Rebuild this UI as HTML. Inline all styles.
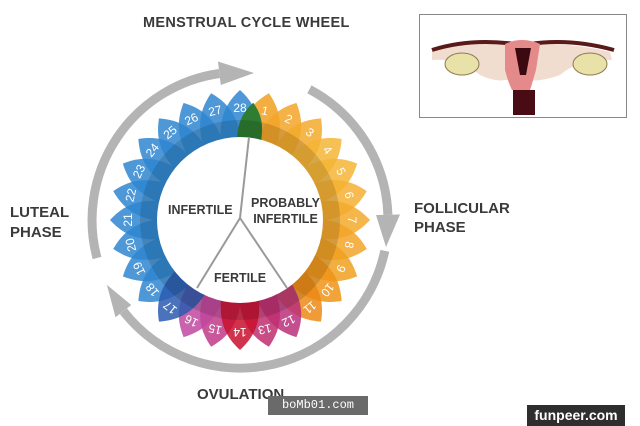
<!DOCTYPE html>
<html><head><meta charset="utf-8"><style>
html,body{margin:0;padding:0;background:#fff;}
body{width:640px;height:426px;overflow:hidden;position:relative;font-family:"Liberation Sans",sans-serif;}
.t{position:absolute;font-weight:bold;color:#3a3a3a;}
</style></head><body>
<svg width="640" height="426" style="position:absolute;left:0;top:0">
<defs>
<path id="p" d="M0,-130 C13,-118 21,-104 19,-80 L-19,-80 C-21,-104 -13,-118 0,-130 Z"/>
<path id="g" d="M0,-118 C9,-108 13,-98 12,-80 L-12,-80 C-13,-98 -9,-108 0,-118 Z"/>
</defs>
<g fill="none" stroke="#b4b4b4" stroke-width="9">
<path d="M97,258 A148,148 0 0 1 219.4,73.5"/>
<path d="M309.4,89.3 A148,148 0 0 1 387.9,214.8"/>
<path d="M384.8,250.8 A148,148 0 0 1 123.4,311.2"/>
</g>
<g fill="#b4b4b4">
<polygon points="220.8,85 218,61.5 254,73"/>
<polygon points="376,215 400,214.5 386,247"/>
<polygon points="131.3,305 115.5,317.3 106.9,284.9"/>
</g>
<g transform="translate(240,220)" fill-opacity="0.85">
<use href="#p" fill="#2f86d0" transform="rotate(231.43)"/>
<use href="#p" fill="#2f86d0" transform="rotate(244.29)"/>
<use href="#p" fill="#2f86d0" transform="rotate(257.14)"/>
<use href="#p" fill="#2f86d0" transform="rotate(270)"/>
<use href="#p" fill="#2f86d0" transform="rotate(282.86)"/>
<use href="#p" fill="#2f86d0" transform="rotate(295.71)"/>
<use href="#p" fill="#2f86d0" transform="rotate(308.57)"/>
<use href="#p" fill="#2f86d0" transform="rotate(321.43)"/>
<use href="#p" fill="#2f86d0" transform="rotate(334.29)"/>
<use href="#p" fill="#2f86d0" transform="rotate(347.14)"/>
<use href="#p" fill="#2f86d0" transform="rotate(0)"/>
<use href="#p" fill="#f0a020" transform="rotate(12.86)"/>
<use href="#p" fill="#f2a528" transform="rotate(25.71)"/>
<use href="#p" fill="#f3aa2c" transform="rotate(38.57)"/>
<use href="#p" fill="#f5b536" transform="rotate(51.43)"/>
<use href="#p" fill="#f5b536" transform="rotate(64.29)"/>
<use href="#p" fill="#f4b032" transform="rotate(77.14)"/>
<use href="#p" fill="#f3aa2c" transform="rotate(90)"/>
<use href="#p" fill="#f2a528" transform="rotate(102.86)"/>
<use href="#p" fill="#f0a020" transform="rotate(115.71)"/>
<use href="#p" fill="#ee9418" transform="rotate(128.57)"/>
<use href="#p" fill="#ec8a14" transform="rotate(141.43)"/>
<use href="#p" fill="#b8307a" transform="rotate(154.29)"/>
<use href="#p" fill="#c02e70" transform="rotate(167.14)"/>
<use href="#p" fill="#c03a88" transform="rotate(192.86)"/>
<use href="#p" fill="#c048a0" transform="rotate(205.71)"/>
<use href="#p" fill="#c8102e" transform="rotate(180)"/>
<use href="#p" fill="#2a5ab0" transform="rotate(218.57)"/>
<use href="#g" fill="#2e7d32" transform="rotate(6.43)" fill-opacity="1"/>
</g>
<circle cx="240" cy="220" r="100" fill="#000" fill-opacity="0.13"/>
<circle cx="240" cy="220" r="83" fill="#fff"/>
<g stroke="#9a9a9a" stroke-width="2" fill="none">
<polyline points="249,137 240,218 197,288"/>
<line x1="240" y1="218" x2="287" y2="288"/>
</g>
<g transform="translate(240,220)" fill="#fff" font-family="Liberation Sans,sans-serif" font-size="12" text-anchor="middle">
<text transform="rotate(0) translate(0,-108)">28</text>
<text transform="rotate(12.86) translate(0,-108)">1</text>
<text transform="rotate(25.71) translate(0,-108)">2</text>
<text transform="rotate(38.57) translate(0,-108)">3</text>
<text transform="rotate(51.43) translate(0,-108)">4</text>
<text transform="rotate(64.29) translate(0,-108)">5</text>
<text transform="rotate(77.14) translate(0,-108)">6</text>
<text transform="rotate(90) translate(0,-108)">7</text>
<text transform="rotate(102.86) translate(0,-108)">8</text>
<text transform="rotate(115.71) translate(0,-108)">9</text>
<text transform="rotate(128.57) translate(0,-108)">10</text>
<text transform="rotate(141.43) translate(0,-108)">11</text>
<text transform="rotate(154.29) translate(0,-108)">12</text>
<text transform="rotate(167.14) translate(0,-108)">13</text>
<text transform="rotate(180) translate(0,-108)">14</text>
<text transform="rotate(192.86) translate(0,-108)">15</text>
<text transform="rotate(205.71) translate(0,-108)">16</text>
<text transform="rotate(218.57) translate(0,-108)">17</text>
<text transform="rotate(231.43) translate(0,-108)">18</text>
<text transform="rotate(244.29) translate(0,-108)">19</text>
<text transform="rotate(257.14) translate(0,-108)">20</text>
<text transform="rotate(270) translate(0,-108)">21</text>
<text transform="rotate(282.86) translate(0,-108)">22</text>
<text transform="rotate(295.71) translate(0,-108)">23</text>
<text transform="rotate(308.57) translate(0,-108)">24</text>
<text transform="rotate(321.43) translate(0,-108)">25</text>
<text transform="rotate(334.29) translate(0,-108)">26</text>
<text transform="rotate(347.14) translate(0,-108)">27</text>
</g>
<rect x="419.5" y="14.5" width="207" height="103" fill="#fff" stroke="#888"/>
<path d="M432,52 Q470,40 520,46 Q560,40 610,52 L612,60 Q580,58 560,75 Q540,82 530,80 L505,80 Q495,82 480,75 Q460,58 432,60 Z" fill="#f1ddd0"/>
<path d="M432,50 Q470,38 515,44 M530,44 Q570,38 614,50" stroke="#5a1a1a" stroke-width="4" fill="none"/>
<ellipse cx="462" cy="64" rx="17" ry="11" fill="#e8e2a8" stroke="#8a7a50"/>
<ellipse cx="590" cy="64" rx="17" ry="11" fill="#e8e2a8" stroke="#8a7a50"/>
<path d="M505,44 Q522,36 540,44 L536,70 Q532,84 530,90 L512,90 Q508,82 505,70 Z" fill="#e58a8a"/>
<path d="M515,48 L531,48 L526,75 L520,75 Z" fill="#3a0a10"/>
<rect x="513" y="90" width="22" height="25" fill="#4a0c14"/>
</svg>
<div class="t" style="left:143px;top:15px;font-size:14.5px;letter-spacing:0.3px">MENSTRUAL CYCLE WHEEL</div>
<div class="t" style="left:10px;top:203px;font-size:15px;line-height:20px">LUTEAL<br>PHASE</div>
<div class="t" style="left:414px;top:199px;font-size:15px;line-height:19px">FOLLICULAR<br>PHASE</div>
<div class="t" style="left:197px;top:386px;font-size:15px">OVULATION</div>
<div class="t" style="left:168px;top:203px;font-size:12.5px">INFERTILE</div>
<div class="t" style="left:251px;top:195px;font-size:12.5px;line-height:16px;text-align:center">PROBABLY<br>INFERTILE</div>
<div class="t" style="left:214px;top:271px;font-size:12.5px">FERTILE</div>
<div style="position:absolute;left:268px;top:396px;width:100px;height:19px;background:#6a6a6a;color:#fff;font:12px 'Liberation Mono',monospace;line-height:19px;text-align:center">boMb01.com</div>
<div style="position:absolute;left:527px;top:405px;width:98px;height:21px;background:#2e2e2e;color:#fff;font:bold 14px 'Liberation Sans',sans-serif;line-height:21px;text-align:center">funpeer.com</div>
</body></html>
